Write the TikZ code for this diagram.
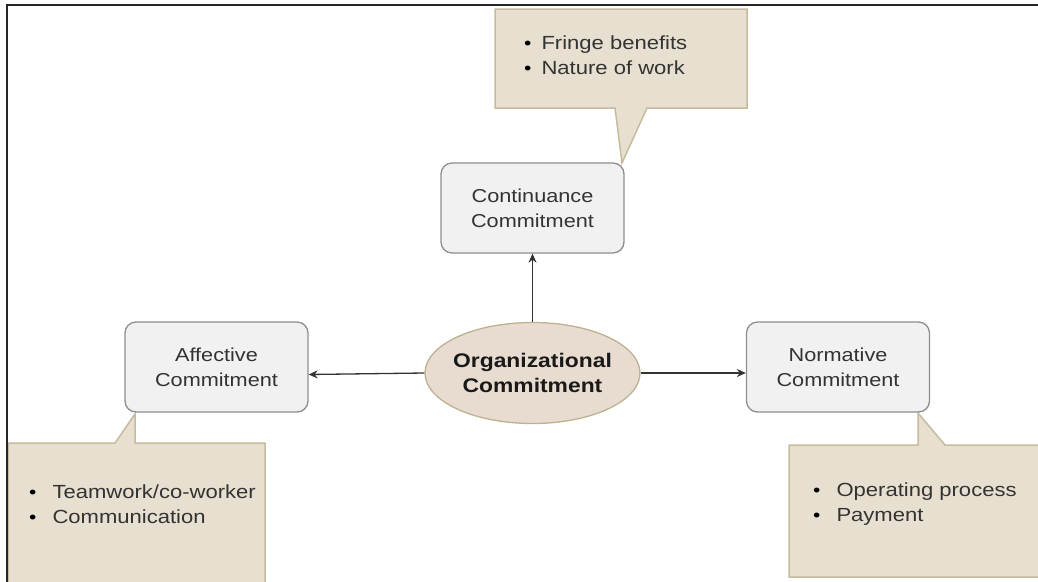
\documentclass[tikz,border=0pt]{standalone}
\usepackage{fontspec}
\setmainfont{Liberation Sans}[FakeStretch=1.16]
\usetikzlibrary{arrows.meta,shapes.geometric}
\definecolor{boxfill}{HTML}{F1F1F1}
\definecolor{boxline}{HTML}{8E8E8E}
\definecolor{calfill}{HTML}{E7E0D1}
\definecolor{calline}{HTML}{C5BB9E}
\definecolor{ellfill}{HTML}{E8DCD1}
\definecolor{ellline}{HTML}{BCB191}
\definecolor{txt}{HTML}{333333}
\definecolor{arrline}{HTML}{333333}
\tikzset{
  cbox/.style={draw=boxline, fill=boxfill, line width=1.3pt, rounded corners=11pt,
    minimum width=183pt, minimum height=90pt, align=center, text=txt,
    font=\fontsize{18.7}{25}\selectfont, inner sep=0pt},
  cell/.style={ellipse, draw=ellline, fill=ellfill, line width=1.3pt,
    minimum width=215pt, minimum height=101pt, text width=160pt, align=center,
    inner xsep=-6pt, inner ysep=0pt,
    font=\fontsize{19.7}{24.5}\selectfont\bfseries, text=black!90},
  callout/.style={draw=calline, fill=calfill, line width=1.5pt, line join=miter},
  bul/.style={anchor=west, align=left, inner sep=0pt, text=txt,
    font=\fontsize{19}{25}\selectfont},
  arr/.style={draw=arrline, line width=1.3pt, -{Stealth[length=9pt,width=8pt]}},
}
\newcommand{\bitem}[1][10pt]{{\color{black}\fontsize{18}{25}\selectfont\textbullet}\hspace{#1}}
\begin{document}
\begin{tikzpicture}[x=1pt,y=-1pt]
\useasboundingbox (0,0) rectangle (1038,581);
\begin{scope}
\clip (0,0) rectangle (1038,581);
% callouts
\path[callout] (495,9) -- (747,9) -- (747,108) -- (647,108) -- (622,163) -- (615,108) -- (495,108) -- cycle;
\path[callout] (8,443) -- (115,443) -- (135,414) -- (135,443) -- (265,443) -- (265,590) -- (8,590) -- cycle;
\path[callout] (789,445) -- (918,445) -- (918,413) -- (945,445) -- (1045,445) -- (1045,577) -- (789,577) -- cycle;
\node[bul] (tc) at (524,55) {\bitem Fringe benefits\\\bitem Nature of work};
\node[bul] (ta) at (29,504.5) {\bitem[16pt]Teamwork/co-worker\\\bitem[16pt]Communication};
\node[bul] (tn) at (813,504.5) {\bitem[16pt]Operating process\\\bitem[16pt]Payment};
% boxes
\node[cbox] (cont) at (532.5,208) {Continuance\\Commitment};
\node[cbox] (aff) at (216.5,367) {Affective\\Commitment};
\node[cbox] (norm) at (838,367) {Normative\\Commitment};
\node[cell] (org) at (532.5,373) {Organizational\\Commitment};
% arrows
\draw[arr] (org.north) -- (cont.south);
\draw[arr] (org.west) -- ([yshift=-1.5pt]aff.east |- org.west);
\draw[arr] (org.east) -- (norm.west |- org.east);
% frame
\draw[black!85, line width=2pt] (7,590) -- (7,5) -- (1045,5);
\end{scope}
\end{tikzpicture}
\end{document}
